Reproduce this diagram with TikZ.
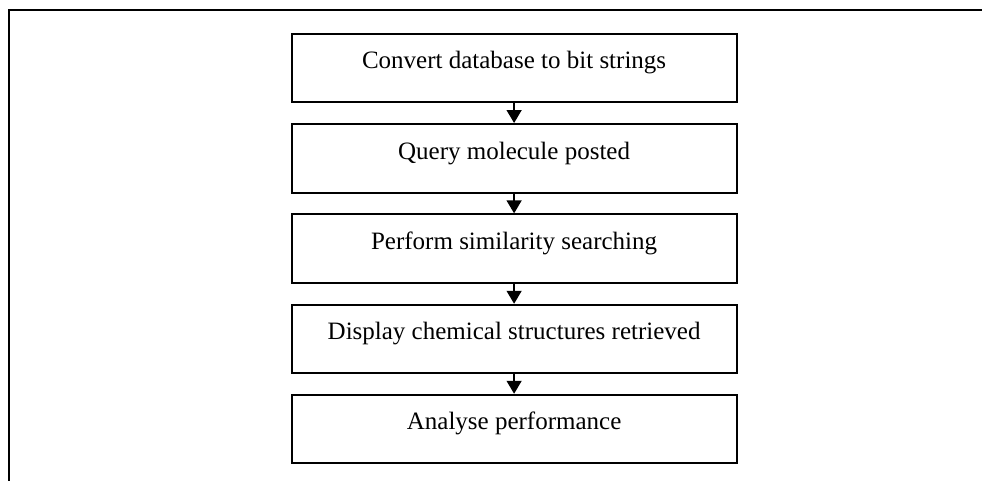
\documentclass[tikz,border=0pt]{standalone}
\usepackage{fontspec}
\setmainfont{Liberation Serif}
\usetikzlibrary{arrows.meta}
\begin{document}
\begin{tikzpicture}[x=1pt,y=-1pt,
  stepbox/.style={draw, line width=2pt, minimum width=445pt, inner sep=0pt,
    text height=35pt, text depth=33.5pt,
    font=\fontsize{25}{30}\selectfont},
  flow/.style={line width=1.5pt, -{Triangle[length=13pt,width=15pt]}}]
\useasboundingbox (0,0) rectangle (982,480);
% open outer frame (top and left edges)
\draw[line width=2pt] (8.5,481) -- (8.5,10) -- (983,10);
% process steps
\node[stepbox] (b1) at (514.1,67.75) {Convert database to bit strings};
\node[stepbox] (b2) at (514.1,158.25) {Query molecule posted};
\node[stepbox] (b3) at (514.1,248.6) {Perform similarity searching};
\node[stepbox] (b4) at (514.1,339) {Display chemical structures retrieved};
\node[stepbox] (b5) at (514.1,429) {Analyse performance};
% connectors
\draw[flow] (b1.south) -- (b2.north);
\draw[flow] (b2.south) -- (b3.north);
\draw[flow] (b3.south) -- (b4.north);
\draw[flow] (b4.south) -- (b5.north);
\end{tikzpicture}
\end{document}
